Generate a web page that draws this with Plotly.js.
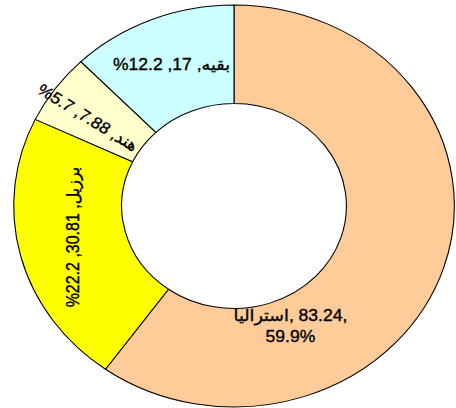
<!DOCTYPE html>
<html>
<head>
<meta charset="utf-8">
<script src="https://cdn.plot.ly/plotly-3.0.1.min.js"></script>
<style>
  html, body { margin: 0; padding: 0; background: #ffffff; overflow: hidden; }
  #plot { width: 416px; height: 408px; transform: scaleX(1.0962); transform-origin: 0 0; }
  #plot .annotation-text { stroke: #000000; stroke-width: 0.35px; }
</style>
</head>
<body>
<div id="plot"></div>
<script>
// Data
const labels = ["استراليا", "برزيل", "هند", "بقيه"];
const values = [83.24, 30.81, 7.88, 17];
const percents = [59.9, 22.2, 5.7, 12.2];
const colors = ["#FFCC99", "#FFFF00", "#FFFFCC", "#CCFFFF"];

const LRM = "\u200E";
function labelLeadFirst(i) {           // "label, value,<br>pct%"
  return labels[i] + LRM + ", " + values[i] + ",<br>" + percents[i] + "%";
}
function labelPctFirst(i) {            // "%pct ,value ,label" (visual order)
  return "%" + percents[i] + " ," + values[i] + " ," + labels[i];
}

const trace = {
  type: "pie",
  labels: labels,
  values: values,
  sort: false,
  direction: "clockwise",
  rotation: 0,
  hole: 0.51,
  textinfo: "none",
  hoverinfo: "none",
  marker: { colors: colors, line: { color: "#000000", width: 1 } },
  domain: { x: [0.0300, 0.9964], y: [0.0025, 0.9877] }
};

const font = { family: "Liberation Sans, Arial, DejaVu Sans, sans-serif", size: 16, color: "#000000" };

const annotations = [
  { text: labelLeadFirst(0), x: 0.636, y: 0.202, textangle: 0 },
  { text: labelPctFirst(1), x: 0.162, y: 0.419, textangle: -90 },
  { text: labelPctFirst(2), x: 0.193, y: 0.713, textangle: 34 },
  { text: labelPctFirst(3), x: 0.377, y: 0.841, textangle: 0 }
].map(a => Object.assign({
  xref: "paper", yref: "paper", showarrow: false,
  xanchor: "center", yanchor: "middle", font: font, align: "center"
}, a));

const layout = {
  width: 416,
  height: 408,
  margin: { l: 0, r: 0, t: 0, b: 0, pad: 0 },
  paper_bgcolor: "#ffffff",
  showlegend: false,
  annotations: annotations
};

Plotly.newPlot("plot", [trace], layout, { displayModeBar: false, staticPlot: true });
</script>
</body>
</html>
